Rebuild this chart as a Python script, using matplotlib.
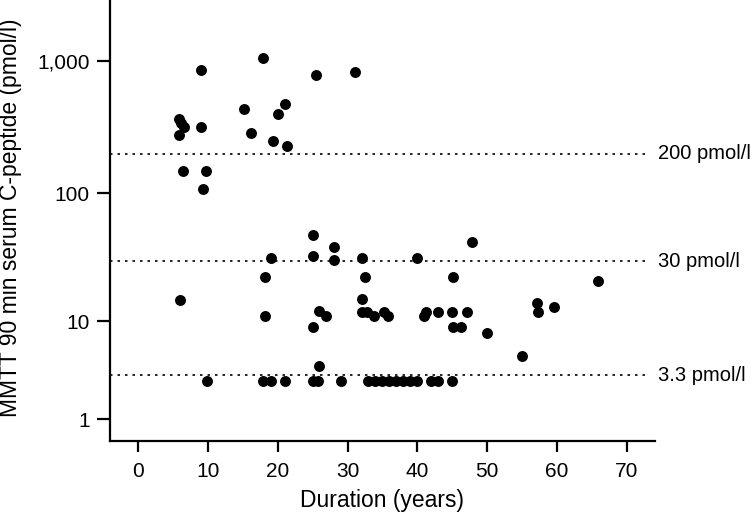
import numpy as np
import matplotlib
matplotlib.use("Agg")
import matplotlib.pyplot as plt

plt.rcParams['font.family'] = ['Liberation Sans', 'DejaVu Sans']

# duration (years) and 90 min C-peptide (pmol/l)
duration = [9.0, 17.9, 25.5, 31.0, 5.9, 6.1, 6.6, 5.9, 9.0, 15.2, 21.1, 20.0,
            16.2, 19.3, 21.4, 6.5, 9.7, 9.3,
            25.0, 28.0, 25.0, 28.0, 19.0, 18.2, 18.2, 25.0, 25.9, 26.9, 6.0,
            32.0, 32.5, 32.0, 32.0, 32.8, 33.8, 35.2, 35.8, 40.0, 40.9, 41.2,
            43.0, 44.9, 45.1, 45.1, 46.2, 47.1, 47.8, 50.0, 55.0, 57.1, 57.2,
            59.5, 65.9, 25.9,
            9.9, 17.9, 19.0, 21.0, 25.0, 25.8, 29.0, 32.9, 33.9, 34.9, 35.9,
            36.9, 37.9, 39.0, 40.0, 42.0, 43.0, 45.0]
cpeptide = [856, 1054, 785, 832, 369, 340, 319, 279, 317, 437, 477, 398,
            289, 249, 229, 149, 149, 108,
            47.9, 39.1, 33.1, 30.8, 31.9, 22.8, 11.0, 9.0, 12.0, 11.0, 14.9,
            31.9, 22.8, 15.0, 11.9, 11.9, 11.0, 11.9, 11.0, 31.9, 11.0, 11.9,
            11.9, 11.9, 22.8, 9.0, 9.0, 11.9, 42.7, 7.9, 5.0, 14.1, 11.9,
            13.0, 21.0, 4.0,
            2.9, 2.9, 2.9, 2.9, 2.9, 2.9, 2.9, 2.9, 2.9, 2.9, 2.9,
            2.9, 2.9, 2.9, 2.9, 2.9, 2.9, 2.9]

thresholds = [200, 30, 3.3]
threshold_labels = ["200 pmol/l", "30 pmol/l", "3.3 pmol/l"]

y_ticks = [1, 10, 100, 1000]
y_tick_labels = ["1", "10", "100", "1,000"]
x_ticks = [0, 10, 20, 30, 40, 50, 60, 70]


# the y axis is log10(y + 1)
def fwd(y):
    return np.log10(np.maximum(np.asarray(y, dtype=float) + 1, 1e-9))


def inv(u):
    return 10 ** np.asarray(u, dtype=float) - 1


fig = plt.figure(figsize=(7.56, 5.13), dpi=100)
ax = fig.add_axes([110 / 756, 1 - 441 / 513, 545 / 756, 441 / 513])
ax.set_yscale('function', functions=(fwd, inv))

ax.scatter(duration, cpeptide, s=62, color='black', zorder=3, linewidths=0)

for t, lab in zip(thresholds, threshold_labels):
    ax.plot([-4, 73.1], [t, t], linestyle=(0, (1.5, 3)), color='black',
            linewidth=1.2, clip_on=False)
    ax.text(74.5, t, lab, fontsize=14.5, va='center', ha='left', clip_on=False)

ax.set_xlim(-4, 74)
ax.set_ylim(0.37, 2900)
ax.set_xticks(x_ticks)
ax.set_yticks(y_ticks)
ax.set_yticklabels(y_tick_labels)
ax.minorticks_off()

for side in ['top', 'right']:
    ax.spines[side].set_visible(False)
for side in ['left', 'bottom']:
    ax.spines[side].set_linewidth(1.6)
ax.tick_params(axis='y', length=9.5, width=1.6, labelsize=15, pad=5)
ax.tick_params(axis='x', length=8, width=1.6, labelsize=15, pad=7)

ax.set_xlabel("Duration (years)", fontsize=16.5, labelpad=6)
ax.set_ylabel("MMTT 90 min serum C-peptide (pmol/l)", fontsize=16.5)
ax.yaxis.set_label_coords(-0.161, 0.506)

fig.savefig("out.png", dpi=100)
